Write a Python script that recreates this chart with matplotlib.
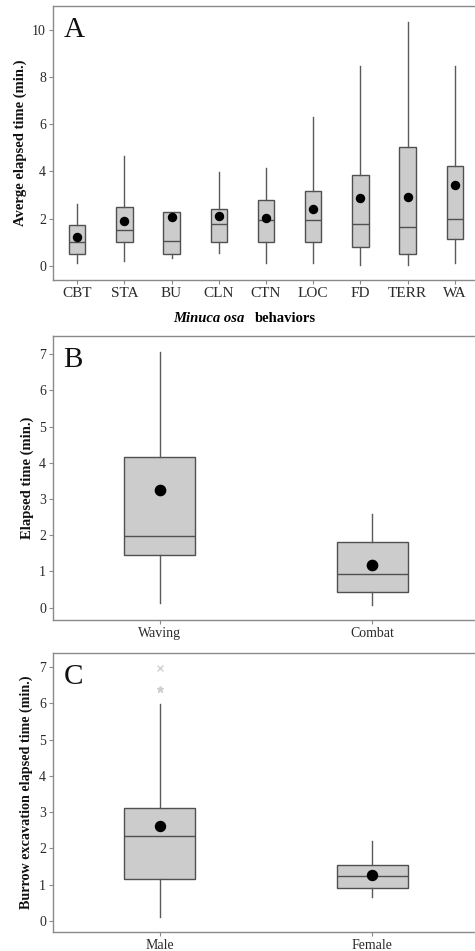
import matplotlib
matplotlib.use("Agg")
import matplotlib.pyplot as plt
import numpy as np

plt.rcParams['font.family'] = ['Liberation Serif', 'DejaVu Serif']

# Panel A data
a_cats = ["CBT", "STA", "BU", "CLN", "CTN", "LOC", "FD", "TERR", "WA"]
a_whislo = [0.10, 0.20, 0.35, 0.56, 0.13, 0.10, 0.03, 0.03, 0.10]
a_q1 = [0.48, 1.02, 0.52, 1.02, 1.02, 1.02, 0.78, 0.48, 1.13]
a_med = [0.99, 1.51, 1.07, 1.76, 1.93, 1.93, 1.79, 1.65, 2.00]
a_q3 = [1.72, 2.50, 2.28, 2.41, 2.78, 3.16, 3.86, 5.02, 4.22]
a_whishi = [2.61, 4.67, 2.28, 3.99, 4.15, 6.29, 8.46, 10.34, 8.46]
a_mean = [1.20, 1.89, 2.07, 2.10, 2.03, 2.41, 2.86, 2.92, 3.44]

# Panel B data
b_cats = ["Waving", "Combat"]
b_whislo = [0.14, 0.08]
b_q1 = [1.45, 0.44]
b_med = [1.99, 0.94]
b_q3 = [4.17, 1.81]
b_whishi = [7.05, 2.59]
b_mean = [3.24, 1.19]

# Panel C data
c_cats = ["Male", "Female"]
c_whislo = [0.11, 0.66]
c_q1 = [1.16, 0.90]
c_med = [2.34, 1.23]
c_q3 = [3.12, 1.55]
c_whishi = [5.99, 2.19]
c_mean = [2.62, 1.27]
c_out_x = [6.99]   # 'x' outlier for Male
c_out_star = [6.40]  # '*' outlier for Male

W, H = 475, 951
fig = plt.figure(figsize=(W / 100, H / 100), dpi=100)

def px_axes(left, top, bottom, width):
    return fig.add_axes([left / W, 1 - bottom / H, width / W, (bottom - top) / H])

FRAME = '#8a8a8a'
BOXEDGE = '#505050'
WHISK = '#5a5a5a'
FILL = '#cccccc'

def draw(ax, cats, lo, q1, med, q3, hi, mean, widths, ylim, yticks, ylabel, letter,
         xlabsize, ylabsize, ms, ylabfs):
    stats = []
    for i in range(len(cats)):
        stats.append(dict(whislo=lo[i], q1=q1[i], med=med[i], q3=q3[i],
                          whishi=hi[i], mean=mean[i], fliers=[]))
    ax.bxp(stats, positions=np.arange(1, len(cats) + 1), widths=widths,
           patch_artist=True, showmeans=True, showcaps=False,
           boxprops=dict(facecolor=FILL, edgecolor=BOXEDGE, linewidth=1.0),
           medianprops=dict(color=BOXEDGE, linewidth=1.0),
           whiskerprops=dict(color=WHISK, linewidth=1.0),
           meanprops=dict(marker='o', markerfacecolor='black',
                          markeredgecolor='black', markersize=ms))
    n = len(cats)
    ax.set_ylim(*ylim)
    ax.set_yticks(yticks)
    ax.set_xticks(np.arange(1, n + 1))
    ax.set_xticklabels(cats)
    for s in ax.spines.values():
        s.set_color(FRAME)
        s.set_linewidth(1.0)
    ax.spines['right'].set_visible(False)
    ax.tick_params(axis='both', direction='out', length=3, width=0.8, color=FRAME,
                   pad=2, labelcolor='#2a2a2a')
    ax.tick_params(axis='x', labelsize=xlabsize)
    ax.tick_params(axis='y', labelsize=ylabsize)
    ax.set_ylabel(ylabel, fontsize=ylabfs, fontweight='bold', color='#111111', labelpad=4)
    ax.text(0.025, 0.96, letter, transform=ax.transAxes, fontsize=21,
            va='top', ha='left', color='#111111')

# Panel A
axA = px_axes(53, 6, 280, 426)
draw(axA, a_cats, a_whislo, a_q1, a_med, a_q3, a_whishi, a_mean, 0.35,
     (-0.6, 11.0), [0, 2, 4, 6, 8, 10], "Averge elapsed time (min.)", "A", 11, 10, 5.8, 10.5)
axA.set_xlim(0.49, 9.51)
axA.text(0.4507, -0.142, "Minuca osa", transform=axA.transAxes, fontsize=10.5,
         fontweight='bold', fontstyle='italic', ha='right', va='center')
axA.text(0.474, -0.142, "behaviors", transform=axA.transAxes, fontsize=10.5,
         fontweight='bold', ha='left', va='center')

# Panel B
axB = px_axes(53, 336, 620, 426)
draw(axB, b_cats, b_whislo, b_q1, b_med, b_q3, b_whishi, b_mean, 0.334,
     (-0.34, 7.5), list(range(0, 8)), "Elapsed time (min.)", "B", 10, 10, 7.4, 10.5)
axB.set_xlim(0.498, 2.502)

# Panel C
axC = px_axes(53, 652.7, 931.7, 426)
draw(axC, c_cats, c_whislo, c_q1, c_med, c_q3, c_whishi, c_mean, 0.334,
     (-0.30, 7.40), list(range(0, 8)), "Burrow excavation elapsed time (min.)", "C", 10, 10, 7.2, 10.2)
axC.set_xlim(0.498, 2.502)
axC.plot([1] * len(c_out_x), c_out_x, linestyle='none', marker='x', color='#cfcfcf',
         markersize=4, markeredgewidth=1)
axC.plot([1] * len(c_out_star), c_out_star, linestyle='none', marker='*', color='#cfcfcf',
         markersize=5)

fig.savefig("out.png", dpi=100)
